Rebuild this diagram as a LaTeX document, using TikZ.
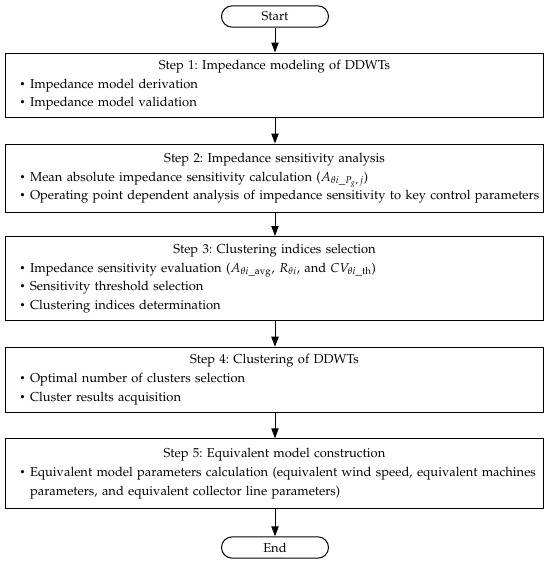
\documentclass[tikz,border=0pt]{standalone}
\usepackage[T1]{fontenc}
\usepackage{mathpazo}
\usetikzlibrary{arrows.meta,shapes.misc}
\frenchspacing
\newcommand{\smallbul}{\raisebox{0.15ex}{\scalebox{0.75}{\textbullet}}}
\newcommand{\itm}[1]{\par\hangindent=8.4pt\hangafter=1\noindent\makebox[8.4pt][l]{\hspace{0.6pt}\smallbul}#1}
\tikzset{
  stepbox/.style={draw=black, line width=0.75pt, rectangle, minimum width=403.5pt,
    text width=383.5pt, inner xsep=10pt, inner ysep=0pt, anchor=north,
    font=\fontsize{9.7}{14}\selectfont},
  termbox/.style={draw=black, line width=0.75pt, rounded rectangle, minimum width=80.25pt,
    minimum height=16pt, inner sep=0pt, font=\fontsize{9.7}{14}\selectfont},
  flow/.style={draw=black, line width=0.75pt, -{Triangle[length=7.5pt,width=5.5pt]}}
}
\begin{document}
\begin{tikzpicture}[x=0.75pt,y=-0.75pt]
\useasboundingbox (0,0) rectangle (550,564);
\node[termbox] (start) at (275,16.5) {Start};
\node[stepbox, minimum height=48.4pt] (s1) at (274.5,52.5)
  {\centering Step 1: Impedance modeling of DDWTs\par\raggedright
   \itm{Impedance model derivation}
   \itm{Impedance model validation}\par};
\node[stepbox, minimum height=51.4pt] (s2) at (274.5,143.5)
  {\centering Step 2: Impedance sensitivity analysis\par\raggedright
   \itm{Mean absolute impedance sensitivity calculation ($A_{\theta i\_P_{g},\,j}$)}
   \itm{\mbox{Operating point dependent analysis of impedance sensitivity to key control parameters}}\par};
\node[stepbox, minimum height=63pt] (s3) at (274.5,236)
  {\centering Step 3: Clustering indices selection\par\raggedright
   \itm{Impedance sensitivity evaluation ($A_{\theta i\_\mathrm{avg}}$, $R_{\theta i}$, and $CV_{\theta i\_\mathrm{th}}$)}
   \itm{Sensitivity threshold selection}
   \itm{Clustering indices determination}\par};
\node[stepbox, minimum height=48.75pt] (s4) at (274.5,346.7)
  {\centering Step 4: Clustering of DDWTs\par\raggedright
   \itm{Optimal number of clusters selection}
   \itm{Cluster results acquisition}\par};
\node[stepbox, minimum height=52.5pt] (s5) at (274.5,438.3)
  {\centering Step 5: Equivalent model construction\par\raggedright
   \itm{\mbox{Equivalent model parameters calculation (equivalent wind speed, equivalent machines}\newline parameters, and equivalent collector line parameters)}\par};
\node[termbox] (end) at (275,547.5) {End};
\draw[flow] (start.south) -- (start.south |- s1.north);
\draw[flow] (s1.south -| start) -- (start |- s2.north);
\draw[flow] (s2.south -| start) -- (start |- s3.north);
\draw[flow] (s3.south -| start) -- (start |- s4.north);
\draw[flow] (s4.south -| start) -- (start |- s5.north);
\draw[flow] (s5.south -| start) -- (end.north);
\end{tikzpicture}
\end{document}
